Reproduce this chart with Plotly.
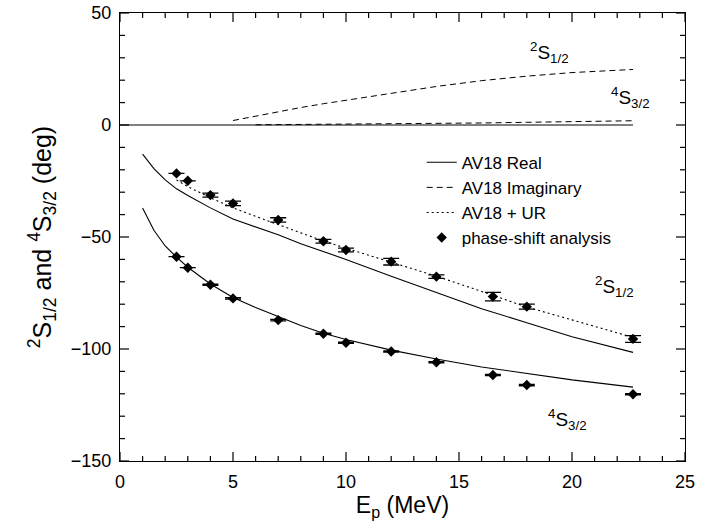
import plotly.graph_objects as go

# ---- data ----
real_x = [1.0, 1.5, 2.0, 2.5, 3, 4, 5, 6, 7, 8, 9, 10, 12, 14, 16, 18, 20, 22.7]
real_s12 = [-13, -19.5, -24.5, -28.5, -31.5, -37, -42, -45.5, -49, -53, -56.5, -60,
            -67.5, -74.8, -82, -88.3, -94.5, -101.5]
real_s32 = [-37, -47, -54, -59, -63.5, -71, -77, -81.5, -85.5, -89.5, -93, -95.8,
            -100.5, -104.5, -108, -110.8, -113.8, -117]
imag_s12_x = [5, 6, 7, 8, 9, 10, 12, 14, 16, 18, 20, 22.7]
imag_s12 = [2, 4, 6, 7.8, 9.5, 11, 14.3, 17.2, 19.8, 21.8, 23.4, 24.8]
imag_s32_x = [6, 8, 10, 12, 14, 16, 18, 20, 22.7]
imag_s32 = [0.1, 0.2, 0.35, 0.5, 0.7, 0.9, 1.2, 1.5, 1.9]
ur_x = [2.5, 3, 4, 5, 6, 7, 8, 9, 10, 12, 14, 16, 18, 20, 22.7]
ur_s12 = [-24.5, -27.5, -32.5, -37, -40.8, -44.5, -48.2, -51.8, -55, -61.2, -67.5,
          -74.3, -81.3, -87, -94.8]
zero_x = [0, 22.7]
zero_y = [0, 0]
psa_x = [2.5, 3.0, 4.0, 5.0, 7.0, 9.0, 10.0, 12.0, 14.0, 16.5, 18.0, 22.7]
psa_s12 = [-21.6, -24.9, -31.3, -35.0, -42.4, -51.9, -55.8, -61.0, -67.7, -76.6, -81.1, -95.5]
psa_s12_err = [0, 0, 0.9, 1.0, 1.0, 0.8, 0.8, 1.5, 0.8, 1.9, 1.1, 1.5]
psa_s32 = [-58.8, -63.7, -71.3, -77.4, -87.1, -93.2, -97.2, -101.1, -105.9, -111.6, -116.1, -120.2]
psa_s32_err = [0, 0, 0.3, 0.3, 0.3, 0.3, 0.3, 0.3, 0.3, 0.3, 0.3, 0.3]
x_range = [0, 25]
y_range = [-150, 50]
x_ticks = [0, 5, 10, 15, 20, 25]
y_ticks = [-150, -100, -50, 0, 50]
x_minor = [v for v in range(1, 25) if v % 5 != 0]
y_minor = [v for v in range(-140, 50, 10) if v % 50 != 0]

FONT = "Liberation Sans, Arial, Helvetica, sans-serif"
W, H = 707, 523
M = dict(l=120, r=22, t=13, b=62)
px_x = (x_range[1] - x_range[0]) / (W - M["l"] - M["r"])   # data units per pixel
px_y = (y_range[1] - y_range[0]) / (H - M["t"] - M["b"])

fig = go.Figure()

line_solid = dict(color="black", width=1.1)
line_dash = dict(color="black", width=1, dash="6px,4px")
line_dot = dict(color="black", width=1.1, dash="2px,3px")

fig.add_trace(go.Scatter(x=zero_x, y=zero_y, mode="lines", line=line_solid, showlegend=False))
fig.add_trace(go.Scatter(x=real_x, y=real_s12, mode="lines", line=line_solid, name="AV18 Real"))
fig.add_trace(go.Scatter(x=real_x, y=real_s32, mode="lines", line=line_solid, showlegend=False))
fig.add_trace(go.Scatter(x=imag_s12_x, y=imag_s12, mode="lines", line=line_dash, name="AV18 Imaginary"))
fig.add_trace(go.Scatter(x=imag_s32_x, y=imag_s32, mode="lines", line=line_dash, showlegend=False))
fig.add_trace(go.Scatter(x=ur_x, y=ur_s12, mode="lines", line=line_dot, name="AV18 + UR"))

marker = dict(symbol="diamond", size=8, color="black")
fig.add_trace(go.Scatter(x=psa_x, y=psa_s12, mode="markers", marker=marker,
                         error_y=dict(type="data", array=psa_s12_err, color="black",
                                      thickness=1.3, width=8),
                         name="phase-shift analysis"))
fig.add_trace(go.Scatter(x=psa_x, y=psa_s32, mode="markers", marker=marker,
                         error_y=dict(type="data", array=psa_s32_err, color="black",
                                      thickness=1.3, width=8),
                         showlegend=False))

# inward tick marks on all four sides, built from the tick lists on the axes' scales
tx, ty = [], []
for vals, ln in [(x_ticks, 9), (x_minor, 5)]:
    for v in vals:
        tx += [v, v, None, v, v, None]
        ty += [y_range[0], y_range[0] + ln * px_y, None,
               y_range[1], y_range[1] - ln * px_y, None]
for vals, ln in [(y_ticks, 9), (y_minor, 5)]:
    for v in vals:
        tx += [x_range[0], x_range[0] + ln * px_x, None,
               x_range[1], x_range[1] - ln * px_x, None]
        ty += [v, v, None, v, v, None]
fig.add_trace(go.Scatter(x=tx, y=ty, mode="lines", line=dict(color="black", width=1.2),
                         showlegend=False, hoverinfo="skip", cliponaxis=False))

labels = [
    (19.0, 32.5, "<sup>2</sup>S<sub>1/2</sub>"),
    (22.6, 12.5, "<sup>4</sup>S<sub>3/2</sub>"),
    (21.9, -72, "<sup>2</sup>S<sub>1/2</sub>"),
    (19.8, -131.5, "<sup>4</sup>S<sub>3/2</sub>"),
]
for lx, ly, lt in labels:
    fig.add_annotation(x=lx, y=ly, text=lt, showarrow=False,
                       font=dict(family=FONT, size=19, color="black"))

fig.update_layout(
    width=W, height=H,
    margin=M,
    paper_bgcolor="white", plot_bgcolor="white",
    font=dict(family=FONT, color="black"),
    xaxis=dict(range=x_range, tickmode="array", tickvals=x_ticks, ticks="",
               showline=True, linecolor="black", linewidth=1.2, mirror=True,
               showgrid=False, zeroline=False, automargin=False,
               tickfont=dict(family=FONT, size=18, color="black"), ticklabelstandoff=4,
               title=dict(text="E<sub>p</sub> (MeV)", font=dict(family=FONT, size=23, color="black"),
                          standoff=0)),
    yaxis=dict(range=y_range, tickmode="array", tickvals=y_ticks, ticks="",
               showline=True, linecolor="black", linewidth=1.2, mirror=True,
               showgrid=False, zeroline=False, automargin=False,
               tickfont=dict(family=FONT, size=18, color="black"), ticklabelstandoff=4,
               title=dict(text="<sup>2</sup>S<sub>1/2</sub> and <sup>4</sup>S<sub>3/2</sub> (deg)",
                          font=dict(family=FONT, size=25, color="black"), standoff=12)),
    legend=dict(x=0.534, y=0.706, xanchor="left", yanchor="top",
                bgcolor="rgba(0,0,0,0)", font=dict(family=FONT, size=17, color="black"),
                tracegroupgap=0, itemwidth=30),
)

fig.write_html("out.html", post_script="document.body.style.margin='0px';",
               config={"displayModeBar": False})
